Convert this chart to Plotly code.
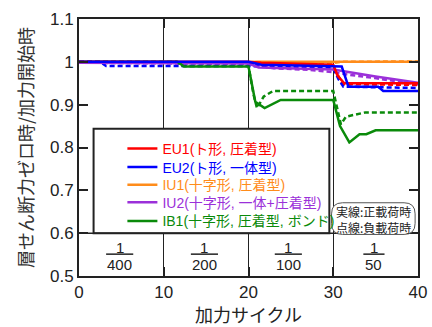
import plotly.graph_objects as go

# ---------------- data ----------------
eu1_pos_x = [0, 20, 21.5, 30, 30.5, 31.3, 40]
eu1_pos_y = [1.0, 1.0, 0.998, 0.993, 0.968, 0.95, 0.95]
eu1_neg_x = [0, 20, 30, 30.7, 31.1, 40]
eu1_neg_y = [1.0, 0.998, 0.99, 0.965, 0.948, 0.946]

eu2_pos_x = [0, 20, 21.5, 31, 31.8, 35.3, 35.9, 40]
eu2_pos_y = [1.0, 1.0, 0.993, 0.989, 0.942, 0.942, 0.932, 0.932]
eu2_neg_x = [0, 2.5, 3.2, 20, 30, 30.6, 31.2, 35.5, 40]
eu2_neg_y = [1.0, 1.0, 0.99, 0.99, 0.985, 0.96, 0.942, 0.94, 0.939]

iu1_pos_x = [0, 10, 20, 21, 30, 40]
iu1_pos_y = [0.999, 0.998, 0.999, 1.0, 1.0, 1.0]
iu1_neg_x = [0, 20, 29, 30, 31, 40]
iu1_neg_y = [0.999, 0.999, 0.998, 0.997, 1.0, 1.001]

iu2_pos_x = [0, 20, 21.2, 30, 35, 40]
iu2_pos_y = [0.998, 0.996, 0.987, 0.982, 0.966, 0.951]
iu2_neg_x = [0, 20, 23, 27.3, 30, 31.8, 34.9, 40]
iu2_neg_y = [0.998, 0.995, 0.985, 0.981, 0.976, 0.97, 0.962, 0.947]

ib1_pos_x = [0, 11.6, 12.4, 20, 20.8, 21.9, 23.8, 30, 30.8, 31.9, 33.1, 33.9, 35.0, 40]
ib1_pos_y = [1.0, 1.0, 0.989, 0.989, 0.907, 0.892, 0.911, 0.911, 0.850, 0.812, 0.831, 0.831, 0.840, 0.840]
ib1_neg_x = [0, 11.5, 12.2, 20, 20.6, 21.0, 21.8, 22.9, 30, 30.4, 30.9, 31.5, 32.6, 33.8, 40]
ib1_neg_y = [1.0, 1.0, 0.99, 0.99, 0.923, 0.892, 0.919, 0.932, 0.932, 0.900, 0.854, 0.872, 0.877, 0.882, 0.882]

names = ["EU1(ト形, 圧着型)", "EU2(ト形, 一体型)", "IU1(十字形, 圧着型)",
         "IU2(十字形, 一体+圧着型)", "IB1(十字形, 圧着型, ボンド)"]
colors = ["#ff0000", "#0000ff", "#ff8c1a", "#9b30d9", "#0a8a0a"]

drift_x = [4.8, 14.8, 24.7, 34.8]
drift_den = ["400", "200", "100", "50"]
drift_bar_half = [1.6, 1.6, 1.6, 1.25]

x_ticks = [0, 10, 20, 30, 40]
y_ticks = [0.5, 0.6, 0.7, 0.8, 0.9, 1.0, 1.1]
y_ticktext = ["0.5", "0.6", "0.7", "0.8", "0.9", "1", "1.1"]

series = [
    (eu1_pos_x, eu1_pos_y, eu1_neg_x, eu1_neg_y),
    (eu2_pos_x, eu2_pos_y, eu2_neg_x, eu2_neg_y),
    (iu1_pos_x, iu1_pos_y, iu1_neg_x, iu1_neg_y),
    (iu2_pos_x, iu2_pos_y, iu2_neg_x, iu2_neg_y),
    (ib1_pos_x, ib1_pos_y, ib1_neg_x, ib1_neg_y),
]

LAT = "Liberation Sans, Arial, Noto Sans CJK JP"
JP = "Noto Sans CJK JP, Liberation Sans"
TXT = "#222222"

legend_ids = ["legend", "legend2", "legend3", "legend4", "legend5"]
legend_rows_y = [0.4943, 0.4221, 0.3536, 0.2852, 0.2129]

fig = go.Figure()
draw_order = [2, 3, 4, 0, 1]
for i in draw_order:
    px, py, nx, ny = series[i]
    fig.add_trace(go.Scatter(x=nx, y=ny, mode="lines", showlegend=False,
                             line=dict(color=colors[i], width=2.5, dash="5px,3px"),
                             hoverinfo="skip"))
for i in draw_order:
    px, py, nx, ny = series[i]
    fig.add_trace(go.Scatter(x=px, y=py, mode="lines", legend=legend_ids[i],
                             name=f"<span style='color:{colors[i]}'>{names[i]}</span>",
                             line=dict(color=colors[i], width=2.5)))

shapes = []
# legend frame
shapes.append(dict(type="rect", xref="x", yref="y", x0=1.72, x1=29.54, y0=0.6, y1=0.844,
                   fillcolor="white", line=dict(color=TXT, width=2), layer="above"))
# 0.6 separator
shapes.append(dict(type="line", xref="x", yref="y", x0=0, x1=40, y0=0.6, y1=0.6,
                   line=dict(color=TXT, width=1.5), layer="above"))
# fraction bars
for cx, hw in zip(drift_x, drift_bar_half):
    shapes.append(dict(type="line", xref="x", yref="y", x0=cx - hw, x1=cx + hw,
                       y0=0.551, y1=0.551, line=dict(color=TXT, width=1.5), layer="above"))
# rounded note box
x0, x1, y0, y1, rx, ry = 29.8, 39.66, 0.597, 0.671, 1.3, 0.026
path = (f"M{x0+rx},{y0} L{x1-rx},{y0} Q{x1},{y0} {x1},{y0+ry} L{x1},{y1-ry} "
        f"Q{x1},{y1} {x1-rx},{y1} L{x0+rx},{y1} Q{x0},{y1} {x0},{y1-ry} "
        f"L{x0},{y0+ry} Q{x0},{y0} {x0+rx},{y0} Z")
shapes.append(dict(type="path", xref="x", yref="y", path=path, fillcolor="white",
                   line=dict(color="#555555", width=1), layer="above"))

ann = []
for cx, den in zip(drift_x, drift_den):
    ann.append(dict(x=cx, y=0.567, xref="x", yref="y", text="1", showarrow=False,
                    font=dict(family=LAT, size=15, color=TXT)))
    ann.append(dict(x=cx, y=0.527, xref="x", yref="y", text=den, showarrow=False,
                    font=dict(family=LAT, size=15, color=TXT)))
ann.append(dict(x=34.75, y=0.633, xref="x", yref="y", text="実線:正載荷時<br>点線:負載荷時",
                showarrow=False, font=dict(family=JP, size=12, color=TXT)))

layout_legends = {}
for lid, ly in zip(legend_ids, legend_rows_y):
    layout_legends[lid] = dict(x=0.128, y=ly, xanchor="left", yanchor="middle",
                               bgcolor="rgba(0,0,0,0)", borderwidth=0, itemwidth=30,
                               font=dict(family=LAT, size=14))

fig.update_layout(
    width=432, height=327,
    margin=dict(l=79, r=5, t=19, b=45),
    paper_bgcolor="white", plot_bgcolor="white",
    shapes=shapes, annotations=ann,
    xaxis=dict(range=[0, 40], tickvals=x_ticks, ticks="inside", ticklen=9, tickwidth=2,
               tickcolor=TXT, showline=True, linewidth=2, linecolor=TXT, mirror="ticks",
               showgrid=True, gridcolor=TXT, gridwidth=1, zeroline=False,
               ticklabeloverflow="allow",
               tickfont=dict(family=LAT, size=17, color=TXT),
               title=dict(text="加力サイクル", font=dict(family=JP, size=18, color=TXT), standoff=7)),
    yaxis=dict(range=[0.5, 1.1], tickvals=y_ticks, ticktext=y_ticktext, ticks="inside",
               ticklen=9, tickwidth=2, tickcolor=TXT, showline=True, linewidth=2,
               linecolor=TXT, mirror="ticks", showgrid=False, zeroline=False,
               tickfont=dict(family=LAT, size=17, color=TXT),
               title=dict(text="層せん断力ゼロ時/加力開始時", font=dict(family=JP, size=18, color="#333333"),
                          standoff=12)),
    **layout_legends,
)

fig.write_html("out.html")
